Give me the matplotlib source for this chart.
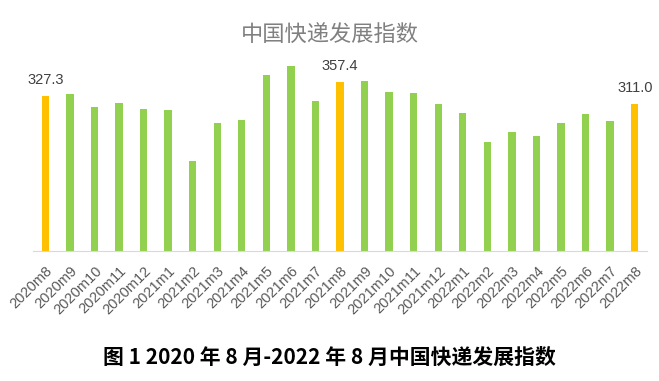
import numpy as np
import matplotlib.pyplot as plt

plt.rcParams['font.family'] = ['Noto Sans CJK SC', 'DejaVu Sans']

months = ['2020m8', '2020m9', '2020m10', '2020m11', '2020m12',
          '2021m1', '2021m2', '2021m3', '2021m4', '2021m5', '2021m6', '2021m7',
          '2021m8', '2021m9', '2021m10', '2021m11', '2021m12',
          '2022m1', '2022m2', '2022m3', '2022m4', '2022m5', '2022m6', '2022m7', '2022m8']
index_vals = [327.3, 331, 304, 312, 300,
              297, 190, 270, 276, 371, 390, 316,
              357.4, 359, 336, 334, 311,
              292, 229, 250, 242, 269, 288, 275, 311.0]
highlight = ['2020m8', '2021m8', '2022m8']

green = '#92D050'
yellow = '#FFC000'

fig = plt.figure(figsize=(6.59, 3.81), dpi=100)
ax = fig.add_axes([33/659, 1 - 251/381, 614/659, 201/381])

x = np.arange(len(months))
colors = [yellow if m in highlight else green for m in months]
ax.bar(x, index_vals, width=0.3, color=colors)

for i, m in enumerate(months):
    if m in highlight:
        ax.text(x[i], index_vals[i] + 18, f'{index_vals[i]:.1f}', ha='center', va='bottom',
                fontsize=10.5, color='#404040', family='Liberation Sans')

ax.set_xlim(-0.5, len(months) - 0.5)
ax.set_ylim(0, 424)
ax.set_xticks(x)
ax.set_xticklabels(months, rotation=45, ha='right', rotation_mode='anchor',
                   fontsize=10.5, color='#595959', family='Liberation Sans')
ax.tick_params(axis='x', length=0, pad=9)
ax.set_yticks([])
for s in ['top', 'right', 'left']:
    ax.spines[s].set_visible(False)
ax.spines['bottom'].set_color('#D9D9D9')

fig.text(0.5, 1 - 35/381, '中国快递发展指数', ha='center', va='center',
         fontsize=16, color='#808080', fontweight='light')
fig.text(0.5, 1 - 357/381, '图 1 2020 年 8 月-2022 年 8 月中国快递发展指数', ha='center', va='center',
         fontsize=15, color='black', fontweight='bold')

fig.savefig('out.png', dpi=100)
